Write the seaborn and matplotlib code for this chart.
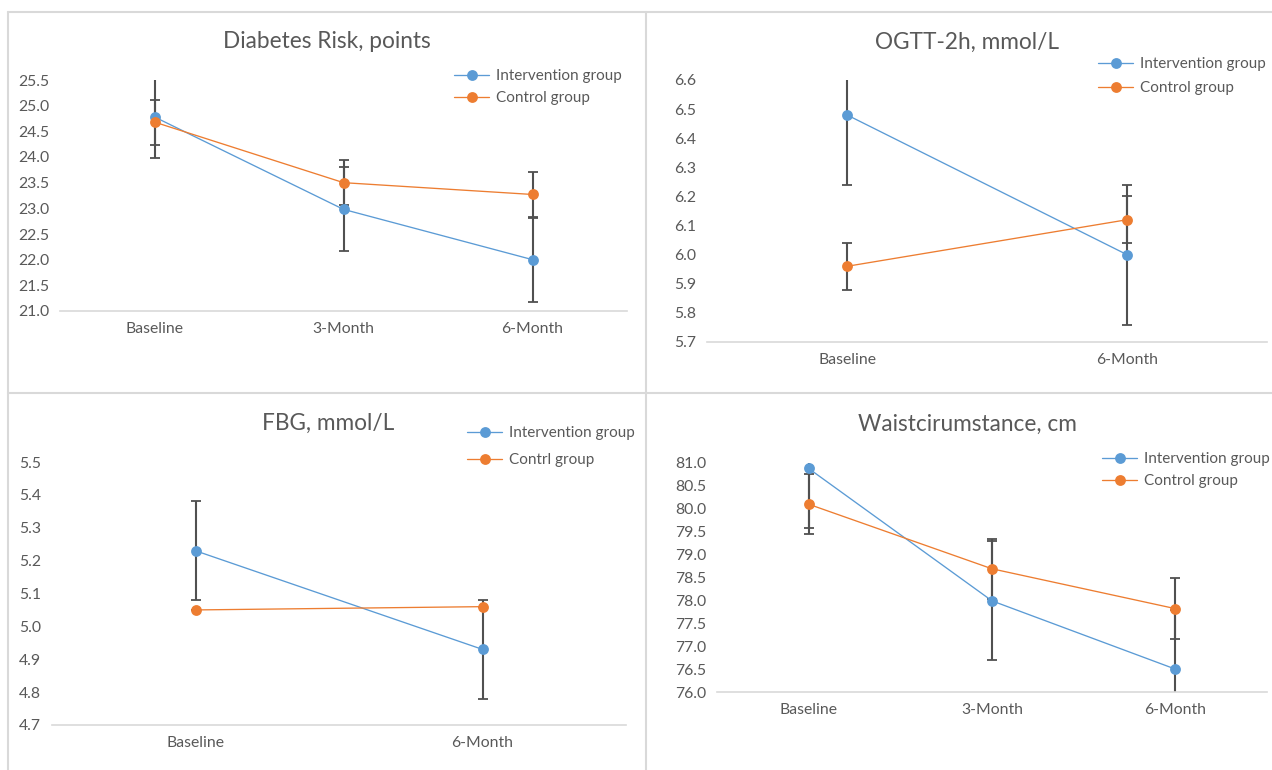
import matplotlib
matplotlib.use("Agg")
import matplotlib.pyplot as plt
from matplotlib.lines import Line2D
import seaborn as sns
import pandas as pd

# ---------------- data ----------------
cats3 = ["Baseline", "3-Month", "6-Month"]
cats2 = ["Baseline", "6-Month"]

risk_int = [24.78, 22.98, 22.00]
risk_int_err = [0.80, 0.82, 0.82]
risk_ctl = [24.68, 23.50, 23.27]
risk_ctl_err = [0.44, 0.44, 0.43]

ogtt_int = [6.48, 6.00]
ogtt_int_err = [0.24, 0.24]
ogtt_ctl = [5.96, 6.12]
ogtt_ctl_err = [0.08, 0.08]

fbg_int = [5.23, 4.93]
fbg_int_err = [0.15, 0.15]
fbg_ctl = [5.05, 5.06]
fbg_ctl_err = [0.0, 0.0]

waist_int = [80.88, 77.99, 76.50]
waist_int_err = [1.30, 1.30, 1.30]
waist_ctl = [80.10, 78.69, 77.82]
waist_ctl_err = [0.66, 0.65, 0.67]

titles = ["Diabetes Risk, points", "OGTT-2h, mmol/L", "FBG, mmol/L", "Waistcirumstance, cm"]
labels_int = ["Intervention group"] * 4
labels_ctl = ["Control group", "Control group", "Contrl group", "Control group"]

ticks1 = [21.0, 21.5, 22.0, 22.5, 23.0, 23.5, 24.0, 24.5, 25.0, 25.5]
ticks2 = [5.7, 5.8, 5.9, 6.0, 6.1, 6.2, 6.3, 6.4, 6.5, 6.6]
ticks3 = [4.7, 4.8, 4.9, 5.0, 5.1, 5.2, 5.3, 5.4, 5.5]
ticks4 = [76.0, 76.5, 77.0, 77.5, 78.0, 78.5, 79.0, 79.5, 80.0, 80.5, 81.0]

BLUE = "#5B9BD5"
ORANGE = "#ED7D31"
ERR = "#505050"
TXT = "#595959"
GRID = "#D9D9D9"

sns.set_theme(style="white")
plt.rcParams["font.family"] = ["Lato", "DejaVu Sans"]

W, H = 1272, 770
fig = plt.figure(figsize=(W / 100, H / 100), dpi=100)
fig.patch.set_facecolor("white")


def px_axes(left, top, right, bottom):
    return fig.add_axes([left / W, 1 - bottom / H, (right - left) / W, (bottom - top) / H])


panels = [
    dict(box=(60, 80, 627, 311), cats=cats3, vi=risk_int, ei=risk_int_err, vc=risk_ctl, ec=risk_ctl_err,
         ticks=ticks1, title=(327, 42), leg=(454, 87, 0.52)),
    dict(box=(707, 80, 1267, 342), cats=cats2, vi=ogtt_int, ei=ogtt_int_err, vc=ogtt_ctl, ec=ogtt_ctl_err,
         ticks=ticks2, title=(967, 42), leg=(1098, 76, 0.65)),
    dict(box=(52, 462, 626, 725), cats=cats2, vi=fbg_int, ei=fbg_int_err, vc=fbg_ctl, ec=fbg_ctl_err,
         ticks=ticks3, title=(328, 423), leg=(467, 446.5, 0.85)),
    dict(box=(717, 463, 1267, 692), cats=cats3, vi=waist_int, ei=waist_int_err, vc=waist_ctl, ec=waist_ctl_err,
         ticks=ticks4, title=(967, 424), leg=(1102, 470, 0.52)),
]

for i, p in enumerate(panels):
    left, top, right, bottom = p["box"]
    ax = px_axes(left, top, right, bottom)
    n = len(p["cats"])
    df = pd.DataFrame({
        "time": p["cats"] * 2,
        "value": list(p["vi"]) + list(p["vc"]),
        "group": [labels_int[i]] * n + [labels_ctl[i]] * n,
    })
    sns.lineplot(data=df, x="time", y="value", hue="group",
                 palette=[BLUE, ORANGE], marker="o", markersize=7.8,
                 markeredgewidth=0, linewidth=0.95, sort=False,
                 legend=False, ax=ax, zorder=3)
    handles = list(ax.lines[:2])
    ax.errorbar(p["cats"], p["vi"], yerr=p["ei"], fmt="none", ecolor=ERR,
                elinewidth=1.5, capsize=3.5, capthick=1.3, zorder=2)
    ax.errorbar(p["cats"], p["vc"], yerr=p["ec"], fmt="none", ecolor=ERR,
                elinewidth=1.5, capsize=3.5, capthick=1.3, zorder=2)

    ax.set_xlim(-0.5, n - 0.5)
    ax.set_ylim(p["ticks"][0], p["ticks"][-1])
    ax.set_yticks(p["ticks"])
    ax.set_yticklabels([f"{t:.1f}" for t in p["ticks"]])
    ax.set_xlabel("")
    ax.set_ylabel("")
    for s in ["top", "right", "left"]:
        ax.spines[s].set_visible(False)
    ax.spines["bottom"].set_color(GRID)
    ax.spines["bottom"].set_linewidth(1.2)
    ax.tick_params(axis="both", length=0, labelsize=11.3, colors=TXT)
    ax.tick_params(axis="y", pad=8)
    ax.tick_params(axis="x", pad=8)
    ax.set_facecolor("none")

    tx, ty = p["title"]
    ax.set_title(titles[i], fontsize=16.3, color=TXT, va="center", ha="center",
                 x=(tx - left) / (right - left), y=(bottom - ty) / (bottom - top), pad=0)

    lx, ly, lsp = p["leg"]
    ax.legend(handles, [labels_int[i], labels_ctl[i]], loc="center left",
              bbox_to_anchor=(lx / W, 1 - ly / H), bbox_transform=fig.transFigure,
              frameon=False, fontsize=11, labelcolor=TXT, borderpad=0,
              borderaxespad=0, handlelength=2.3, handletextpad=0.45,
              labelspacing=lsp)

# panel borders
border_kw = dict(color=GRID, linewidth=1.5, transform=fig.transFigure)
fig.add_artist(Line2D([8 / W, 8 / W], [0, 1 - 12 / H], **border_kw))
fig.add_artist(Line2D([8 / W, 1], [1 - 12 / H, 1 - 12 / H], **border_kw))
fig.add_artist(Line2D([646 / W, 646 / W], [0, 1 - 12 / H], **border_kw))
fig.add_artist(Line2D([8 / W, 1], [1 - 393 / H, 1 - 393 / H], **border_kw))

fig.savefig("out.png", dpi=100, facecolor="white")
